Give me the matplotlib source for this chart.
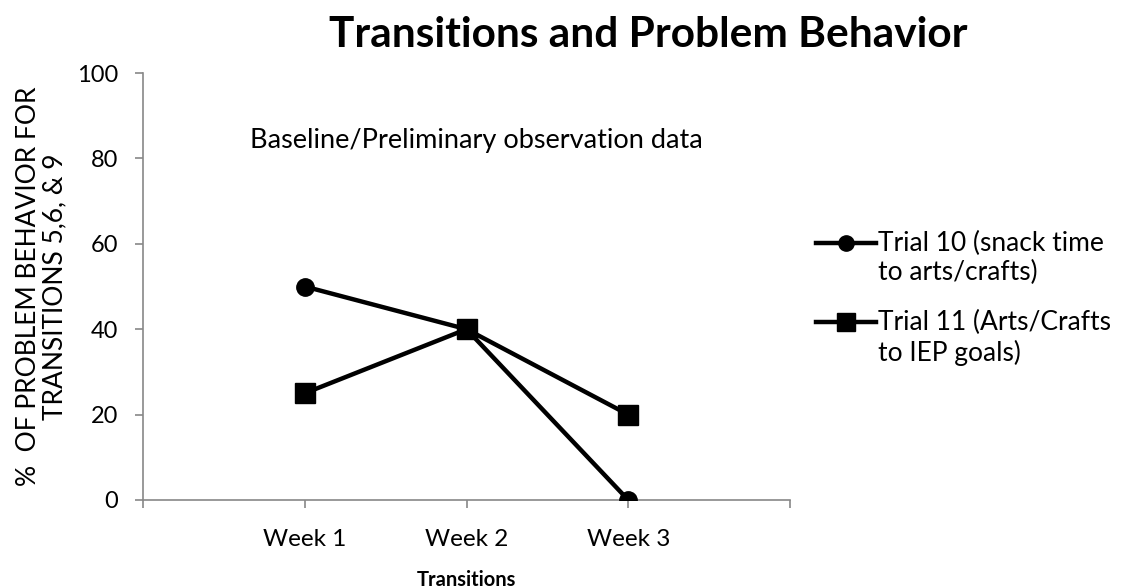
import matplotlib
matplotlib.use("Agg")
import matplotlib.pyplot as plt
from matplotlib.lines import Line2D

plt.rcParams['font.family'] = ['Lato', 'DejaVu Sans']

weeks = ["Week 1", "Week 2", "Week 3"]
x_pos = [1, 2, 3]
trial10 = [50, 40, 0]
trial11 = [25, 40, 20]
labels = ["Trial 10 (snack time\nto arts/crafts)", "Trial 11 (Arts/Crafts\nto IEP goals)"]

fig = plt.figure(figsize=(11.21, 5.88), dpi=100)
ax = fig.add_axes([143 / 1121, 88 / 588, 647 / 1121, 427 / 588])

ax.plot(x_pos, trial10, color="black", lw=3.2, marker="o", ms=12.5, zorder=3)
ax.plot(x_pos, trial11, color="black", lw=3.2, marker="s", ms=14.5, zorder=3)

ax.set_xlim(0, 4)
ax.set_ylim(0, 100)
ax.set_xticks([0, 1, 2, 3, 4])
ax.set_xticklabels([""] + weeks + [""])
ax.set_yticks([0, 20, 40, 60, 80, 100])
ax.tick_params(axis="both", color="#888888", length=6, width=1.2)
ax.tick_params(axis="x", labelsize=17.5, pad=15)
ax.tick_params(axis="y", labelsize=17, pad=12)
for side in ["top", "right"]:
    ax.spines[side].set_visible(False)
for side in ["left", "bottom"]:
    ax.spines[side].set_color("#888888")
    ax.spines[side].set_linewidth(1.2)

ax.set_xlabel("Transitions", fontsize=14.5, fontweight="bold", labelpad=14)
ax.set_ylabel("%  OF PROBLEM BEHAVIOR FOR\nTRANSITIONS 5,6, & 9", fontsize=19,
              labelpad=7, linespacing=1.05)

fig.text(648 / 1121, 0.94, "Transitions and Problem Behavior", ha="center", va="center",
         fontsize=30.5, fontweight="bold")
ax.text(0.165, 0.843, "Baseline/Preliminary observation data", transform=ax.transAxes,
        fontsize=19.5, ha="left", va="center")

# legend drawn Excel-style: handle aligned with first text line
legend_y = [243, 322]
legend_markers = ["o", "s"]
legend_ms = [11, 12.5]
for y, mk, ms, lab in zip(legend_y, legend_markers, legend_ms, labels):
    yf = 1 - y / 588
    fig.add_artist(Line2D([816 / 1121, 846 / 1121, 876 / 1121], [yf, yf, yf],
                          transform=fig.transFigure, color="black", lw=3.2,
                          marker=mk, ms=ms, markevery=[1]))
    fig.text(878 / 1121, yf + 0.02, lab, fontsize=19, ha="left", va="top",
             linespacing=1.2)

fig.savefig("out.png", dpi=100)
